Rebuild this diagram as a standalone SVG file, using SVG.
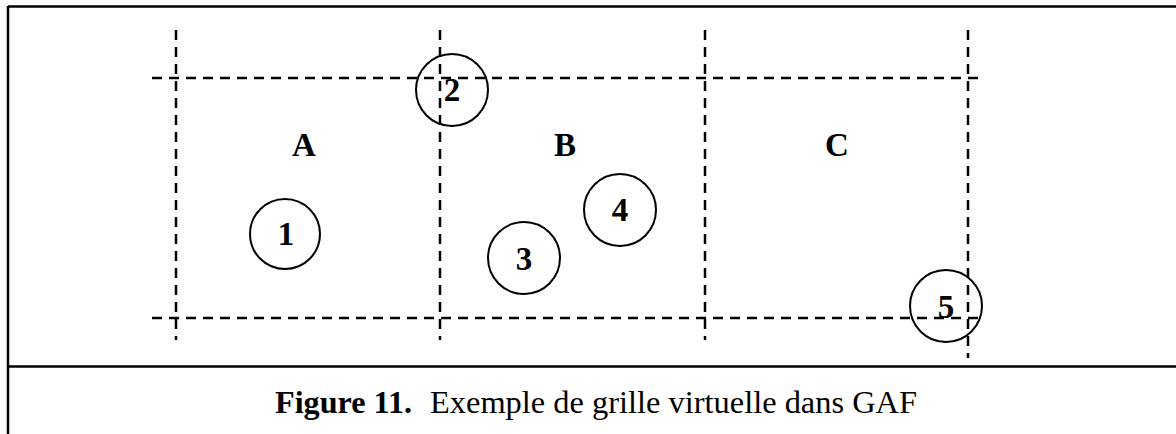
<svg xmlns="http://www.w3.org/2000/svg" width="1176" height="434" viewBox="0 0 1176 434">
<style>
.frame{stroke:#000;stroke-width:2.5;fill:none}
.grid{stroke:#000;stroke-width:2.5;stroke-dasharray:10,7;fill:none}
.node circle{fill:none;stroke:#000;stroke-width:2}
.lbl{font-family:"Liberation Serif","Times New Roman",serif;font-weight:bold;font-size:33px;text-anchor:middle}
.cap{font-family:"Liberation Serif","Times New Roman",serif;font-size:32px}
</style>
<rect width="1176" height="434" fill="#fff"/>
<g id="frame">
<line class="frame" x1="8" y1="6.5" x2="1176" y2="6.5"/>
<line class="frame" x1="8" y1="6" x2="8" y2="434"/>
<line class="frame" x1="8" y1="366.5" x2="1176" y2="366.5"/>
</g>
<g id="grid">
<line class="grid" x1="176" y1="30" x2="176" y2="340"/>
<line class="grid" x1="440" y1="30" x2="440" y2="340"/>
<line class="grid" x1="705" y1="30" x2="705" y2="340"/>
<line class="grid" x1="968" y1="30" x2="968" y2="358"/>
<line class="grid" x1="152" y1="78" x2="985" y2="78"/>
<line class="grid" x1="152" y1="318" x2="984" y2="318"/>
</g>
<g id="cells">
<text class="lbl" x="304" y="156">A</text>
<text class="lbl" x="565" y="156">B</text>
<text class="lbl" x="837" y="156">C</text>
</g>
<g id="node1" class="node"><circle cx="285" cy="234" r="35"/><text class="lbl" x="286" y="245">1</text></g>
<g id="node2" class="node"><circle cx="452" cy="90" r="36"/><text class="lbl" x="452" y="101">2</text></g>
<g id="node3" class="node"><circle cx="524" cy="258" r="36"/><text class="lbl" x="524" y="270">3</text></g>
<g id="node4" class="node"><circle cx="620" cy="210" r="36"/><text class="lbl" x="620" y="221">4</text></g>
<g id="node5" class="node"><circle cx="946" cy="306" r="36"/><text class="lbl" x="946" y="318">5</text></g>
<g id="caption">
<text class="cap" x="275" y="413" font-weight="bold" textLength="137" lengthAdjust="spacingAndGlyphs">Figure 11.</text>
<text class="cap" x="430" y="413" textLength="487" lengthAdjust="spacingAndGlyphs">Exemple de grille virtuelle dans GAF</text>
</g>
</svg>
